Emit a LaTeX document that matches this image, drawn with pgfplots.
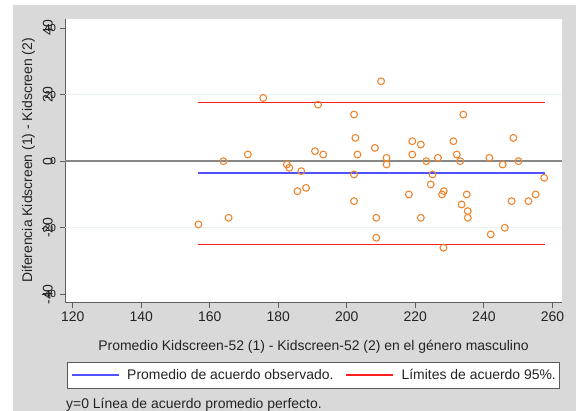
\documentclass[border=0pt]{standalone}
\usepackage{pgfplots}
\pgfplotsset{compat=1.18}
\usepackage{fontspec}
\setmainfont{Liberation Sans}
\definecolor{bggray}{RGB}{217,217,217}
\definecolor{axgray}{RGB}{95,95,95}
\definecolor{zerogray}{RGB}{135,135,135}
\definecolor{mkorange}{RGB}{238,134,48}
\definecolor{gridc}{RGB}{234,242,243}
\definecolor{sblue}{RGB}{80,80,255}
\definecolor{sred}{RGB}{255,30,30}
\definecolor{txt}{RGB}{35,35,35}
\tikzset{ylab/.style={rotate=90, anchor=south, inner sep=3bp, font=\fontsize{14}{16}\selectfont, text=txt}}
\pgfplotstableread{
x y
156.7 -19
164.0 0
165.5 -17
171.1 2
175.6 19
182.5 -1
183.2 -2
186.7 -3
185.6 -9
188.1 -8
190.7 3
193.1 2
191.6 17
202.1 14
202.5 7
203.1 2
202.1 -4
202.1 -12
208.6 -17
208.6 -23
210.0 24
208.2 4
211.6 1
211.6 -1
219.1 6
221.6 5
219.1 2
223.2 0
226.6 1
225.0 -4
224.5 -7
218.1 -10
228.3 -9
227.8 -10
235.0 -10
233.5 -13
235.3 -15
235.3 -17
221.6 -17
228.2 -26
231.1 6
234.0 14
232.1 2
233.1 0
241.6 1
245.5 -1
248.6 7
250.1 0
257.6 -5
248.1 -12
253.0 -12
255.1 -10
242.0 -22
246.1 -20
}\datatable
\begin{document}
\begin{tikzpicture}
\fill[white] (0,0) rectangle (576bp,411bp);
\fill[bggray] (13bp,0) rectangle (576bp,406bp);
\begin{axis}[
  at={(65bp,109bp)}, anchor=south west,
  scale only axis, width=497bp, height=283bp,
  xmin=117.75, xmax=262.8, ymin=-42.3, ymax=42.7,
  axis x line*=bottom, axis y line*=left,
  axis line style={axgray, line width=1bp, -},
  axis background/.style={fill=white},
  xtick={120,140,...,260}, ytick={-40,-20,...,40},
  tick align=outside, major tick length=5.5bp,
  tick style={axgray, line width=0.8bp},
  /pgf/number format/assume math mode=true,
  xticklabel style={font=\fontsize{14}{16}\selectfont, text=txt, anchor=north, yshift=-0.5bp},
  yticklabel={},
  xlabel={Promedio Kidscreen-52 (1) - Kidscreen-52 (2) en el género masculino},
  ylabel={Diferencia Kidscreen (1) - Kidscreen (2)},
  every axis x label/.style={at={(axis description cs:0.5,0)}, yshift=-45bp, anchor=center,
    font=\fontsize{14}{16}\selectfont, text=txt},
  every axis y label/.style={at={(axis description cs:0,0.5)}, xshift=-36.6bp, rotate=90, anchor=center,
    font=\fontsize{14}{16}\selectfont, text=txt},
  legend columns=2,
  legend style={at={(0.5,-0.2588)}, anchor=center, draw=black!65, line width=0.8bp,
    font=\fontsize{14}{16}\selectfont, inner xsep=3.5bp, inner ysep=7bp,
    nodes={inner sep=0pt},
    /tikz/every odd column/.append style={column sep=7.5bp},
    /tikz/every even column/.append style={column sep=12bp}},
  legend image code/.code={\draw[#1, line width=1.6bp] (0bp,0bp) -- (47bp,0bp);},
  clip=false,
]
\draw[gridc, line width=0.8bp] (axis cs:117.75,20) -- (axis cs:262.8,20);
\draw[gridc, line width=0.8bp] (axis cs:117.75,-20) -- (axis cs:262.8,-20);
\addplot[draw=zerogray, line width=2.6bp, forget plot] coordinates {(117.75,0) (262.8,0)};
\addplot[only marks, mark=o, mark size=3.4bp, mark options={draw=mkorange, line width=1.1bp}, forget plot] table {\datatable};
\addplot[sblue, line width=1.5bp] coordinates {(156.6,-3.6) (257.7,-3.6)};
\addlegendentry{\textcolor{txt}{Promedio de acuerdo observado.}}
\addplot[sred, line width=1.3bp] coordinates {(156.6,17.7) (257.7,17.7)};
\addlegendentry{\textcolor{txt}{Límites de acuerdo 95\%.}}
\addplot[sred, line width=1.3bp, forget plot] coordinates {(156.6,-25.0) (257.7,-25.0)};
\node[ylab] at ([xshift=-9bp]axis cs:117.75,40) {40};
\node[ylab] at ([xshift=-9bp]axis cs:117.75,20) {20};
\node[ylab] at ([xshift=-9bp]axis cs:117.75,0) {0};
\node[ylab] at ([xshift=-9bp]axis cs:117.75,-20) {-20};
\node[ylab] at ([xshift=-9bp]axis cs:117.75,-40) {-40};
\end{axis}
\node[anchor=base west, font=\fontsize{14}{16}\selectfont, text=txt, inner sep=0pt] at (66bp,3bp) {y=0 Línea de acuerdo promedio perfecto.};
\end{tikzpicture}
\end{document}
